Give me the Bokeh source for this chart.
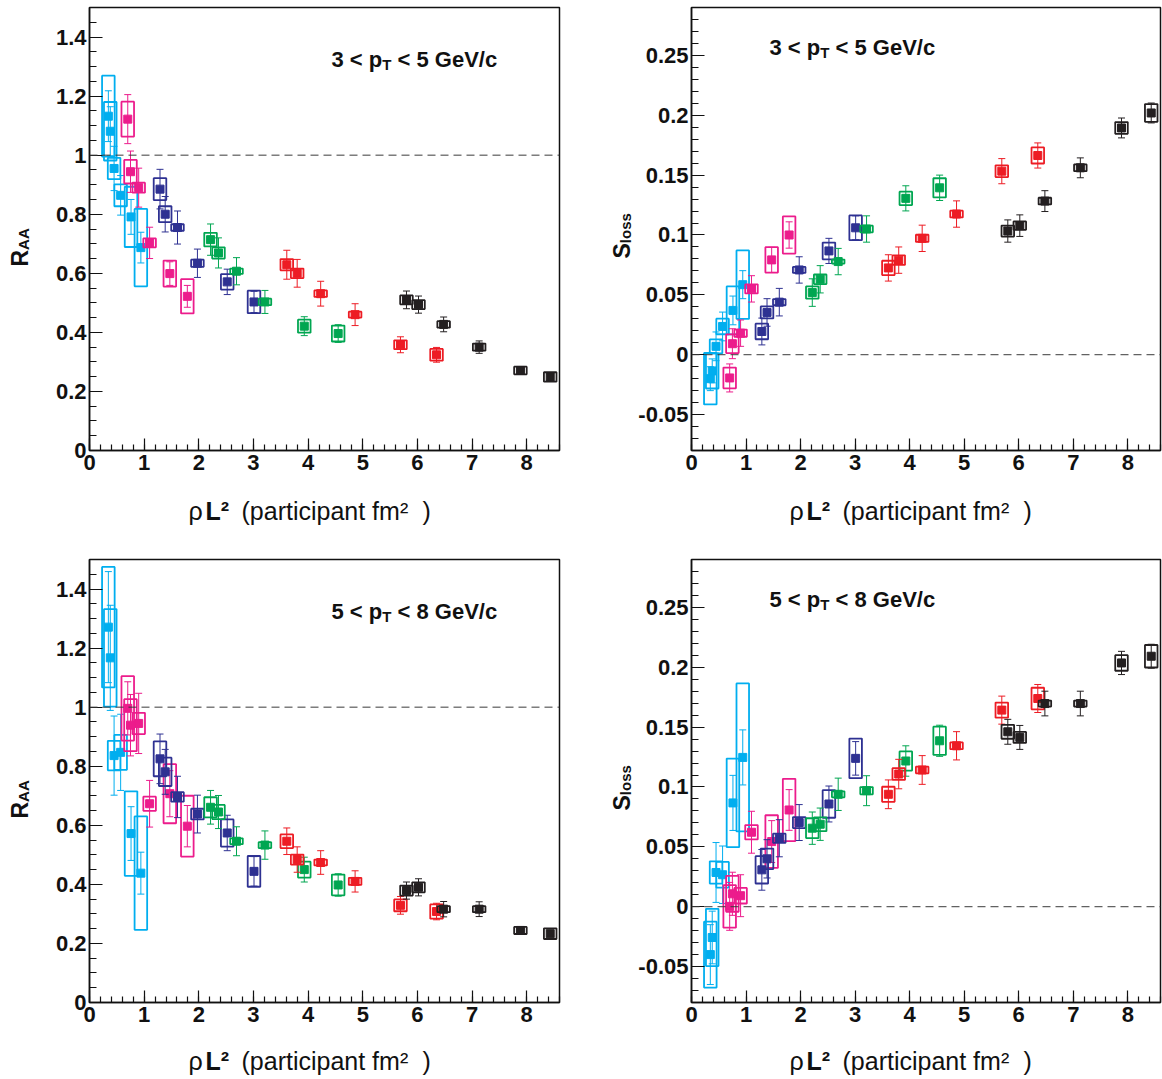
import math

from bokeh.embed import file_html
from bokeh.layouts import column, row
from bokeh.models import (ColumnDataSource, CustomJSTickFormatter, Label,
                          Range1d, SingleIntervalTicker, Span)
from bokeh.plotting import figure
from bokeh.resources import INLINE

# ---------------------------------------------------------------------------
# Data: one list per collision system (six centrality classes each)
# ---------------------------------------------------------------------------
SERIES_COLORS = ["#00AEEF", "#EC1C8C", "#2E3192", "#00A651", "#ED1C24", "#231F20"]

# rho * L^2 (participant fm^2)
RHO_L2 = [
    [0.345, 0.38, 0.45, 0.57, 0.76, 0.94],
    [0.70, 0.75, 0.90, 1.10, 1.47, 1.79],
    [1.29, 1.385, 1.61, 1.975, 2.52, 3.01],
    [2.215, 2.36, 2.69, 3.21, 3.93, 4.55],
    [3.61, 3.80, 4.23, 4.86, 5.69, 6.35],
    [5.80, 6.02, 6.48, 7.13, 7.885, 8.43],
]

# R_AA, 3 < pT < 5 GeV/c
RAA_PT35 = [
    [1.132, 1.081, 0.955, 0.864, 0.791, 0.687],
    [1.122, 0.944, 0.890, 0.703, 0.599, 0.522],
    [0.885, 0.800, 0.755, 0.634, 0.571, 0.503],
    [0.714, 0.669, 0.607, 0.503, 0.421, 0.396],
    [0.629, 0.600, 0.531, 0.460, 0.358, 0.324],
    [0.510, 0.494, 0.427, 0.350, 0.271, 0.249],
]
RAA_PT35_STAT = [
    [0.086, 0.083, 0.075, 0.067, 0.059, 0.052],
    [0.083, 0.070, 0.066, 0.053, 0.040, 0.037],
    [0.067, 0.060, 0.056, 0.048, 0.043, 0.036],
    [0.053, 0.051, 0.046, 0.039, 0.032, 0.030],
    [0.049, 0.047, 0.042, 0.037, 0.027, 0.025],
    [0.030, 0.029, 0.025, 0.021, 0.008, 0.008],
]
RAA_PT35_SYS = [
    [0.137, 0.099, 0.036, 0.037, 0.102, 0.131],
    [0.059, 0.040, 0.017, 0.015, 0.044, 0.058],
    [0.037, 0.027, 0.011, 0.012, 0.026, 0.038],
    [0.023, 0.019, 0.009, 0.011, 0.022, 0.027],
    [0.019, 0.016, 0.011, 0.010, 0.015, 0.020],
    [0.015, 0.015, 0.011, 0.012, 0.013, 0.016],
]

# S_loss, 3 < pT < 5 GeV/c
SLOSS_PT35 = [
    [-0.020, -0.0135, 0.007, 0.0236, 0.037, 0.0585],
    [-0.0194, 0.0092, 0.018, 0.055, 0.0792, 0.100],
    [0.0194, 0.0353, 0.0439, 0.0708, 0.0867, 0.106],
    [0.0519, 0.063, 0.0778, 0.105, 0.1306, 0.1394],
    [0.0725, 0.079, 0.0972, 0.1175, 0.1533, 0.1664],
    [0.1033, 0.1078, 0.1283, 0.1561, 0.1894, 0.2019],
]
SLOSS_PT35_STAT = [
    [0.010, 0.010, 0.012, 0.012, 0.012, 0.0117],
    [0.0117, 0.0125, 0.011, 0.011, 0.0105, 0.011],
    [0.0112, 0.0115, 0.0115, 0.011, 0.0105, 0.010],
    [0.0115, 0.0114, 0.011, 0.011, 0.0105, 0.0106],
    [0.011, 0.011, 0.011, 0.011, 0.0105, 0.0105],
    [0.0093, 0.009, 0.0087, 0.0083, 0.0083, 0.0083],
]
SLOSS_PT35_SYS = [
    [0.0215, 0.0147, 0.0058, 0.0065, 0.020, 0.0286],
    [0.0087, 0.0078, 0.003, 0.0038, 0.0106, 0.0155],
    [0.0065, 0.005, 0.0026, 0.0025, 0.007, 0.0103],
    [0.0051, 0.004, 0.0017, 0.0028, 0.0056, 0.008],
    [0.006, 0.004, 0.003, 0.0028, 0.0049, 0.0067],
    [0.0046, 0.0035, 0.0028, 0.0028, 0.0049, 0.0074],
]

# R_AA, 5 < pT < 8 GeV/c
RAA_PT58 = [
    [1.271, 1.167, 0.836, 0.847, 0.572, 0.438],
    [0.996, 0.939, 0.945, 0.673, 0.707, 0.597],
    [0.825, 0.781, 0.696, 0.638, 0.574, 0.444],
    [0.661, 0.645, 0.546, 0.533, 0.450, 0.398],
    [0.546, 0.484, 0.474, 0.410, 0.329, 0.308],
    [0.379, 0.390, 0.316, 0.316, 0.244, 0.233],
]
RAA_PT58_STAT = [
    [0.188, 0.178, 0.134, 0.129, 0.091, 0.071],
    [0.090, 0.104, 0.102, 0.079, 0.078, 0.070],
    [0.084, 0.076, 0.070, 0.064, 0.060, 0.050],
    [0.057, 0.056, 0.049, 0.048, 0.042, 0.038],
    [0.045, 0.043, 0.040, 0.036, 0.030, 0.028],
    [0.029, 0.029, 0.026, 0.025, 0.008, 0.008],
]
RAA_PT58_SYS = [
    [0.204, 0.165, 0.050, 0.059, 0.143, 0.192],
    [0.109, 0.088, 0.036, 0.024, 0.100, 0.103],
    [0.059, 0.048, 0.016, 0.018, 0.046, 0.052],
    [0.034, 0.024, 0.010, 0.010, 0.027, 0.035],
    [0.023, 0.017, 0.010, 0.012, 0.020, 0.024],
    [0.017, 0.017, 0.010, 0.010, 0.012, 0.018],
]

# S_loss, 5 < pT < 8 GeV/c
SLOSS_PT58 = [
    [-0.040, -0.0257, 0.0286, 0.0267, 0.0867, 0.1247],
    [0.0003, 0.0108, 0.0092, 0.0622, 0.0544, 0.0808],
    [0.0308, 0.040, 0.0572, 0.0703, 0.0858, 0.1239],
    [0.0656, 0.0689, 0.0939, 0.0969, 0.1217, 0.1386],
    [0.0939, 0.1108, 0.1142, 0.1344, 0.1642, 0.1739],
    [0.1461, 0.1414, 0.1697, 0.1697, 0.2036, 0.2092],
]
SLOSS_PT58_STAT = [
    [0.025, 0.022, 0.025, 0.024, 0.023, 0.023],
    [0.020, 0.018, 0.0175, 0.0175, 0.0175, 0.017],
    [0.017, 0.016, 0.0155, 0.015, 0.015, 0.014],
    [0.0135, 0.0135, 0.0135, 0.0125, 0.0127, 0.013],
    [0.012, 0.0123, 0.012, 0.0118, 0.0117, 0.0117],
    [0.0104, 0.010, 0.0103, 0.0103, 0.0097, 0.010],
]
SLOSS_PT58_SYS = [
    [0.0275, 0.0239, 0.0093, 0.0107, 0.037, 0.0618],
    [0.0178, 0.015, 0.0065, 0.006, 0.022, 0.026],
    [0.0114, 0.0086, 0.0038, 0.0046, 0.0115, 0.0165],
    [0.0083, 0.0058, 0.0025, 0.003, 0.008, 0.0118],
    [0.0063, 0.0049, 0.0028, 0.0028, 0.0063, 0.009],
    [0.0058, 0.0046, 0.0025, 0.0025, 0.0065, 0.0094],
]

X_MAX = 8.6
BOX_W = 0.23
FONT = "Liberation Sans"
INK = "#111111"

FRAME_W, FRAME_H = 470, 443
COL_W = 581
MAIN_TOP, MAIN_BOTTOM = 7, 35
MAIN_H = MAIN_TOP + FRAME_H + MAIN_BOTTOM
BASE_SHIFT = 8   # label baseline correction (px)

# Arial / Liberation Sans advance widths (em) for the characters used in labels
BOLD_W = {"3": .556, "5": .556, "8": .556, " ": .278, "<": .584, "p": .611,
          "T": .611, "G": .778, "e": .556, "V": .667, "/": .278, "c": .556,
          "R": .722, "S": .667, "L": .611, "²": .333, "A": .722}
REG_W = {"ρ": .58, " ": .278, "(": .333, "p": .556, "a": .556, "r": .333,
         "t": .278, "i": .222, "c": .5, "n": .556, "f": .278, "m": .833,
         "²": .333, ")": .333}


def text_width(s, size, bold):
    table = BOLD_W if bold else REG_W
    return sum(table.get(ch, 0.556) for ch in s) * size


def add_text(p, x, y, text, size, bold=True, angle=0.0, units="screen"):
    p.add_layout(Label(x=x, y=y, x_units=units, y_units=units, text=text,
                       text_font=FONT, text_font_size=f"{size}px",
                       text_font_style="bold" if bold else "normal",
                       text_color=INK, angle=angle, text_align="left",
                       text_baseline="alphabetic"))


def blank_fig(w, h):
    f = figure(width=w, height=h, x_range=Range1d(0, w), y_range=Range1d(0, h),
               x_axis_type=None, y_axis_type=None, output_backend="svg",
               toolbar_location=None, min_border=0, min_border_left=0,
               min_border_right=0, min_border_top=0, min_border_bottom=0,
               frame_align=False)
    f.outline_line_color = None
    f.background_fill_color = "white"
    f.border_fill_color = "white"
    return f


def tick_formatter():
    return CustomJSTickFormatter(code=r"""
        let s = tick.toFixed(2);
        s = s.replace(/0+$/, '').replace(/\.$/, '');
        if (s === '-0') { s = '0'; }
        return s;
    """)


def make_main(vals, stat, sys, kind, pt_lo, pt_hi, left_col, b_left, width):
    if kind == "raa":
        y_lo, y_hi, y_step, y_minor, ref = 0.0, 1.5, 0.2, 4, 1.0
    else:
        y_lo, y_hi, y_step, y_minor, ref = -0.08, 0.29, 0.05, 5, 0.0
    b_right = width - b_left - FRAME_W

    p = figure(width=width, height=MAIN_H, x_range=Range1d(0, X_MAX),
               y_range=Range1d(y_lo, y_hi), output_backend="svg",
               toolbar_location=None, min_border_left=b_left,
               min_border_right=b_right, min_border_top=MAIN_TOP,
               min_border_bottom=MAIN_BOTTOM, frame_align=False)
    p.grid.visible = False
    p.outline_line_color = INK
    p.outline_line_width = 1.5
    p.background_fill_color = "white"
    p.border_fill_color = "white"

    p.xaxis.ticker = SingleIntervalTicker(interval=1, num_minor_ticks=5)
    p.yaxis.ticker = SingleIntervalTicker(interval=y_step, num_minor_ticks=y_minor)
    p.yaxis.formatter = tick_formatter()
    for ax, big, small, standoff in ((p.xaxis, 12, 6, 4), (p.yaxis, 13, 7, 3)):
        ax.axis_line_color = INK
        ax.axis_line_width = 1.5
        ax.major_tick_line_color = INK
        ax.minor_tick_line_color = INK
        ax.major_tick_line_width = 1.2
        ax.minor_tick_line_width = 1.2
        ax.major_tick_in = big
        ax.major_tick_out = 0
        ax.minor_tick_in = small
        ax.minor_tick_out = 0
        ax.major_label_text_font = FONT
        ax.major_label_text_font_style = "bold"
        ax.major_label_text_font_size = "22px"
        ax.major_label_text_color = INK
        ax.major_label_standoff = standoff

    p.add_layout(Span(location=ref, dimension="width", line_color="#3a3a3a",
                      line_width=1, line_dash="8 5"))

    for s, color in enumerate(SERIES_COLORS):
        xs = RHO_L2[s]
        ys = vals[s]
        src = ColumnDataSource(dict(
            x=xs, y=ys,
            lo=[v - e for v, e in zip(ys, stat[s])],
            hi=[v + e for v, e in zip(ys, stat[s])],
            h=[2 * e for e in sys[s]],
        ))
        p.rect(x="x", y="y", width=BOX_W, height="h", source=src,
               fill_color=None, line_color=color, line_width=1.8)
        p.segment(x0="x", y0="lo", x1="x", y1="hi", source=src,
                  line_color=color, line_width=1)
        p.scatter(x="x", y="lo", marker="dash", size=7, source=src,
                  line_color=color, line_width=1)
        p.scatter(x="x", y="hi", marker="dash", size=7, source=src,
                  line_color=color, line_width=1)
        p.scatter(x="x", y="y", marker="square", size=8, source=src,
                  fill_color=color, line_color=color)

    # panel title: "lo < pT < hi GeV/c"
    tx = 242 if left_col else 78
    ty = FRAME_H - (60 if left_col else 48) + BASE_SHIFT
    size, sub = 22, 15
    part1 = f"{pt_lo} < p"
    add_text(p, tx, ty, part1, size)
    x_sub = tx + text_width(part1, size, True)
    add_text(p, x_sub, ty - 5, "T", sub)
    x_rest = x_sub + text_width("T", sub, True) + text_width(" ", size, True)
    add_text(p, x_rest, ty, f"< {pt_hi} GeV/c", size)
    return p


def make_block(vals, stat, sys, kind, pt_lo, pt_hi, left_col, top_row):
    block_h = 552 if top_row else 527
    frame_left = 89 if left_col else 690 - COL_W
    lab_w = 44 if left_col else 54
    b_left = frame_left - lab_w
    main_w = COL_W - lab_w
    main = make_main(vals, stat, sys, kind, pt_lo, pt_hi, left_col, b_left, main_w)

    # x-axis title strip: rho L^2 (participant fm^2)
    xlab_h = block_h - MAIN_H
    xlab = blank_fig(main_w, xlab_h)
    base_below_frame = 68 if top_row else 66
    ly = xlab_h - (base_below_frame - MAIN_BOTTOM) + BASE_SHIFT
    lsize = 25
    add_text(xlab, b_left + 99, ly, "ρ", lsize, bold=False, units="data")
    add_text(xlab, b_left + 116, ly, "L²", lsize, bold=True, units="data")
    add_text(xlab, b_left + 152, ly, "(participant fm²", lsize, bold=False,
             units="data")
    add_text(xlab, b_left + 333, ly, ")", lsize, bold=False, units="data")

    # y-axis title strip with subscript
    ylab = blank_fig(lab_w, block_h)
    if kind == "raa":
        main_txt, sub_txt = "R", "AA"
        base_x = 27 - BASE_SHIFT
        start = 259
    else:
        main_txt, sub_txt = "S", "loss"
        base_x = (629 - COL_W) - BASE_SHIFT
        start = 251
    ys0 = block_h - (MAIN_TOP + start)
    add_text(ylab, base_x, ys0, main_txt, 23, angle=math.pi / 2, units="data")
    add_text(ylab, base_x + 4, ys0 + text_width(main_txt, 23, True), sub_txt, 15,
             angle=math.pi / 2, units="data")

    return row(ylab, column(main, xlab))


b1 = make_block(RAA_PT35, RAA_PT35_STAT, RAA_PT35_SYS, "raa", 3, 5, True, True)
b2 = make_block(SLOSS_PT35, SLOSS_PT35_STAT, SLOSS_PT35_SYS, "sloss", 3, 5, False, True)
b3 = make_block(RAA_PT58, RAA_PT58_STAT, RAA_PT58_SYS, "raa", 5, 8, True, False)
b4 = make_block(SLOSS_PT58, SLOSS_PT58_STAT, SLOSS_PT58_SYS, "sloss", 5, 8, False, False)

layout = column(row(b1, b2), row(b3, b4))

with open("out.html", "w") as f:
    f.write(file_html(layout, INLINE))
